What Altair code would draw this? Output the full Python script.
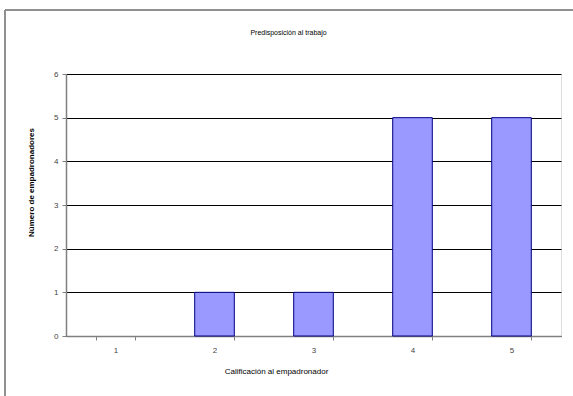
import altair as alt
import pandas as pd

categories = ["1", "2", "3", "4", "5"]
counts = [0, 1, 1, 5, 5]
y_ticks = [0, 1, 2, 3, 4, 5, 6]

df = pd.DataFrame({"cat": categories, "n": counts})

FONT = "Liberation Sans"

bars = alt.Chart(df).transform_filter("datum.n > 0").mark_bar(
    fill="#9999FF", stroke="#000080", strokeWidth=1
).encode(
    x=alt.X("cat:O", sort=categories,
            scale=alt.Scale(domain=categories, paddingInner=0.6, paddingOuter=0.3),
            axis=alt.Axis(title="Calificación al empadronador", labelAngle=0,
                          tickBand="extent", tickSize=4, tickColor="#808080",
                          domainColor="#808080", domainWidth=1.5,
                          labelFont=FONT, labelFontSize=8, labelColor="#444444",
                          labelPadding=6, titleFont=FONT, titleFontSize=8,
                          titleFontWeight="normal", titleColor="#000000",
                          titlePadding=13, titleX=210, grid=False)),
    y=alt.Y("n:Q", scale=alt.Scale(domain=[0, 6], nice=False),
            axis=alt.Axis(title="Número de empadronadores", values=y_ticks,
                          format="d", grid=True, gridColor="#000000",
                          gridWidth=1, tickSize=4, tickColor="#808080",
                          domainColor="#808080", domainWidth=1.5,
                          labelFont=FONT, labelFontSize=8, labelColor="#444444",
                          labelPadding=4, titleFont=FONT, titleFontSize=8,
                          titleFontWeight="bold", titleColor="#000000",
                          titlePadding=18, titleY=108)),
)

frame_left = alt.Chart(df).mark_rule(color="#909090", strokeWidth=2).encode(
    x=alt.value(-61), y=alt.value(-64), y2=alt.value(330)
)
frame_top = alt.Chart(df).mark_rule(color="#909090", strokeWidth=2).encode(
    x=alt.value(-61), x2=alt.value(520), y=alt.value(-64)
)

chart = alt.layer(frame_left, frame_top, bars).properties(
    width=495, height=262,
    title=alt.TitleParams("Predisposición al trabajo", font=FONT, fontSize=7,
                          fontWeight="normal", color="#000000", anchor="middle",
                          dx=-25, offset=-27),
    autosize=alt.AutoSizeParams(type="none"),
    padding={"left": 66, "top": 74, "right": 12, "bottom": 60},
).configure_view(stroke=None).configure(background="#ffffff")

chart.save("out.html", embed_options={"renderer": "svg", "actions": False})
